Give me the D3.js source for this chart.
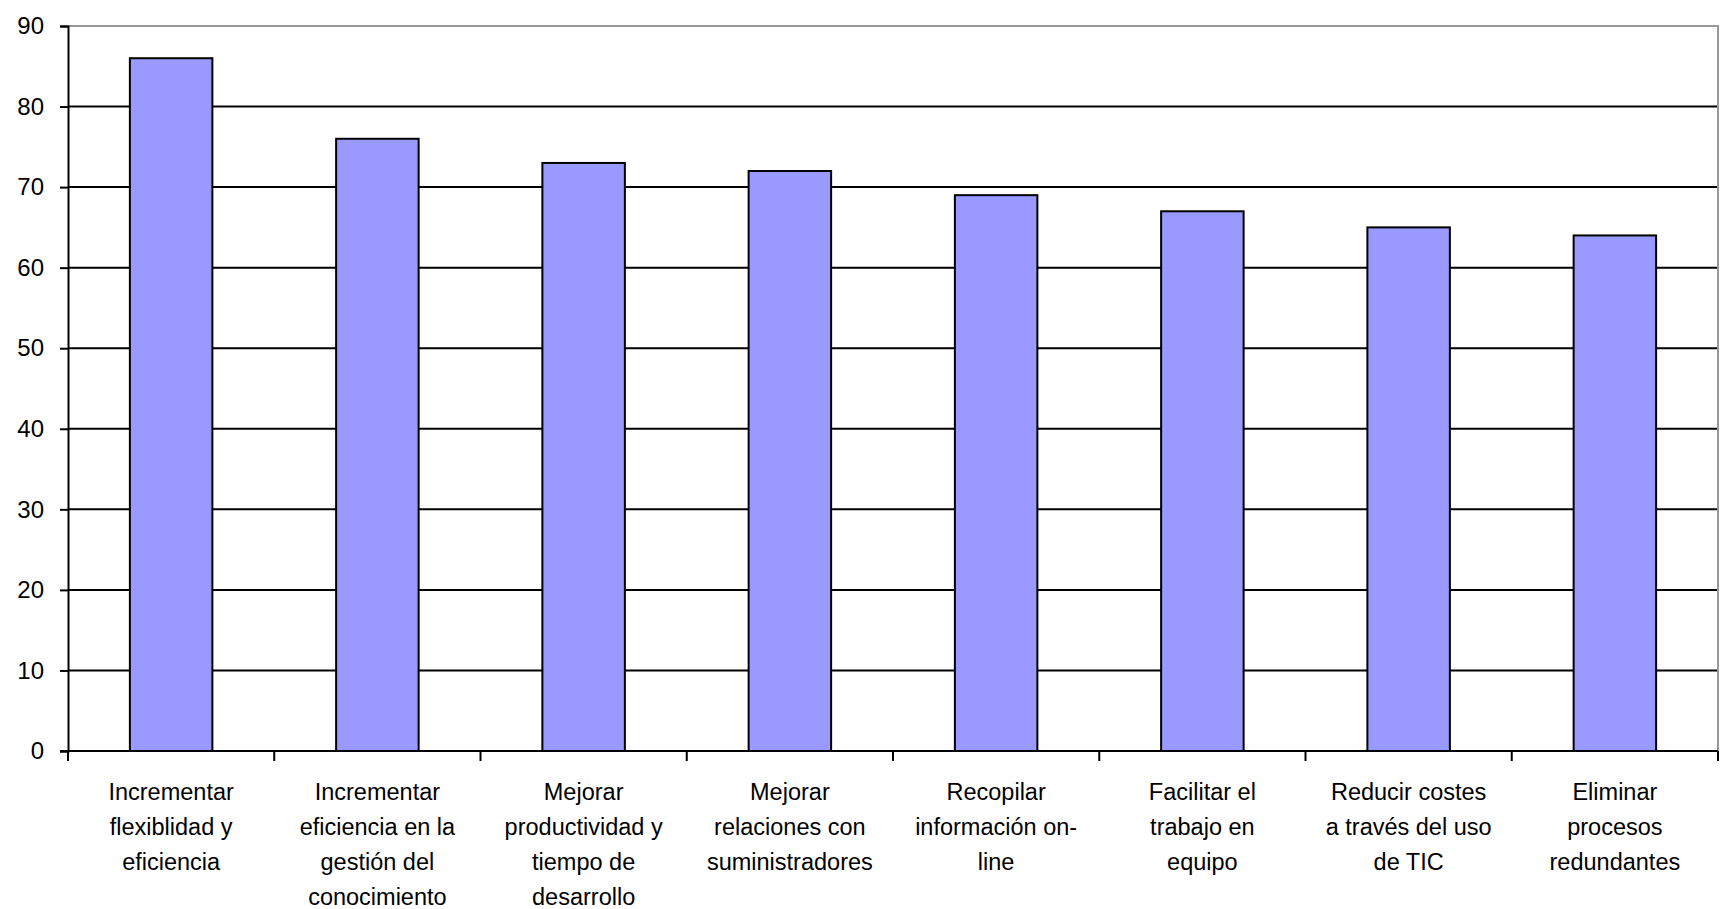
<!DOCTYPE html>
<html>
<head>
<meta charset="utf-8">
<script src="https://cdn.jsdelivr.net/npm/d3@7"></script>
<style>
  body { margin: 0; background: #fff; }
  text { font-family: "Liberation Sans", Arial, sans-serif; fill: #000; }
</style>
</head>
<body>
<svg width="1721" height="909"></svg>
<script>
// categorias (lineas de cada etiqueta)
var categorias = [
    ["Incrementar", "flexiblidad y", "eficiencia"],
    ["Incrementar", "eficiencia en la", "gestión del", "conocimiento"],
    ["Mejorar", "productividad y", "tiempo de", "desarrollo"],
    ["Mejorar", "relaciones con", "suministradores"],
    ["Recopilar", "información on-", "line"],
    ["Facilitar el", "trabajo en", "equipo"],
    ["Reducir costes", "a través del uso", "de TIC"],
    ["Eliminar", "procesos", "redundantes"]
];
var valori = [86, 76, 73, 72, 69, 67, 65, 64];
var yTicks = [0, 10, 20, 30, 40, 50, 60, 70, 80, 90];

var svg = d3.select("svg");
var mLeft = 68, mRight = 1718, mTop = 26, mBottom = 751;

// Scala x per le categorie
var xScale = d3.scaleBand()
    .domain(d3.range(valori.length))
    .range([mLeft, mRight])
    .paddingInner(0.6)
    .paddingOuter(0.3);

// Scala y
var yScale = d3.scaleLinear()
    .domain([0, 90])
    .range([mBottom, mTop]);

var step = (mRight - mLeft) / valori.length;

// griglia
svg.selectAll("line.grid")
    .data(yTicks.slice(1, -1))
    .enter()
    .append("line")
    .attr("class", "grid")
    .attr("x1", mLeft).attr("x2", mRight)
    .attr("y1", function (d) { return yScale(d); })
    .attr("y2", function (d) { return yScale(d); })
    .attr("stroke", "#000")
    .attr("stroke-width", 2);

// bordo superiore e destro grigio
svg.append("path")
    .attr("d", "M" + mLeft + "," + yScale(90) + "H" + mRight + "V" + mBottom)
    .attr("fill", "none")
    .attr("stroke", "#999")
    .attr("stroke-width", 2);

// barre
svg.selectAll("rect.bar")
    .data(valori)
    .enter()
    .append("rect")
    .attr("class", "bar")
    .attr("x", function (d, i) { return xScale(i); })
    .attr("y", function (d) { return yScale(d); })
    .attr("width", xScale.bandwidth())
    .attr("height", function (d) { return yScale(0) - yScale(d); })
    .attr("fill", "#9999FF")
    .attr("stroke", "#000")
    .attr("stroke-width", 2);

// asse y
var yAxis = d3.axisLeft(yScale)
    .tickValues(yTicks)
    .tickSize(8)
    .tickPadding(16)
    .tickFormat(d3.format("d"));
var gy = svg.append("g")
    .attr("transform", "translate(" + mLeft + ",0)")
    .call(yAxis);
gy.select(".domain").attr("stroke", "#000").attr("stroke-width", 2);
gy.selectAll(".tick line").attr("stroke", "#000").attr("stroke-width", 2);
gy.selectAll(".tick text")
    .attr("font-size", 24)
    .attr("font-family", "Liberation Sans, Arial, sans-serif")
    .attr("fill", "#000");

// asse x
svg.append("line")
    .attr("x1", mLeft - 8).attr("x2", mRight)
    .attr("y1", mBottom).attr("y2", mBottom)
    .attr("stroke", "#000")
    .attr("stroke-width", 2);

svg.selectAll("line.xtick")
    .data(d3.range(valori.length + 1))
    .enter()
    .append("line")
    .attr("class", "xtick")
    .attr("x1", function (d) { return mLeft + d * step; })
    .attr("x2", function (d) { return mLeft + d * step; })
    .attr("y1", mBottom).attr("y2", mBottom + 10)
    .attr("stroke", "#000")
    .attr("stroke-width", 2);

// etichette categorie
var etichette = svg.selectAll("text.cat")
    .data(categorias)
    .enter()
    .append("text")
    .attr("class", "cat")
    .attr("text-anchor", "middle")
    .attr("font-size", 23.5)
    .attr("transform", function (d, i) { return "translate(" + (xScale(i) + xScale.bandwidth() / 2) + "," + 800 + ")"; });

etichette.selectAll("tspan")
    .data(function (d) { return d; })
    .enter()
    .append("tspan")
    .attr("x", 0)
    .attr("y", function (d, j) { return j * 35; })
    .text(function (d) { return d; });
</script>
</body>
</html>
